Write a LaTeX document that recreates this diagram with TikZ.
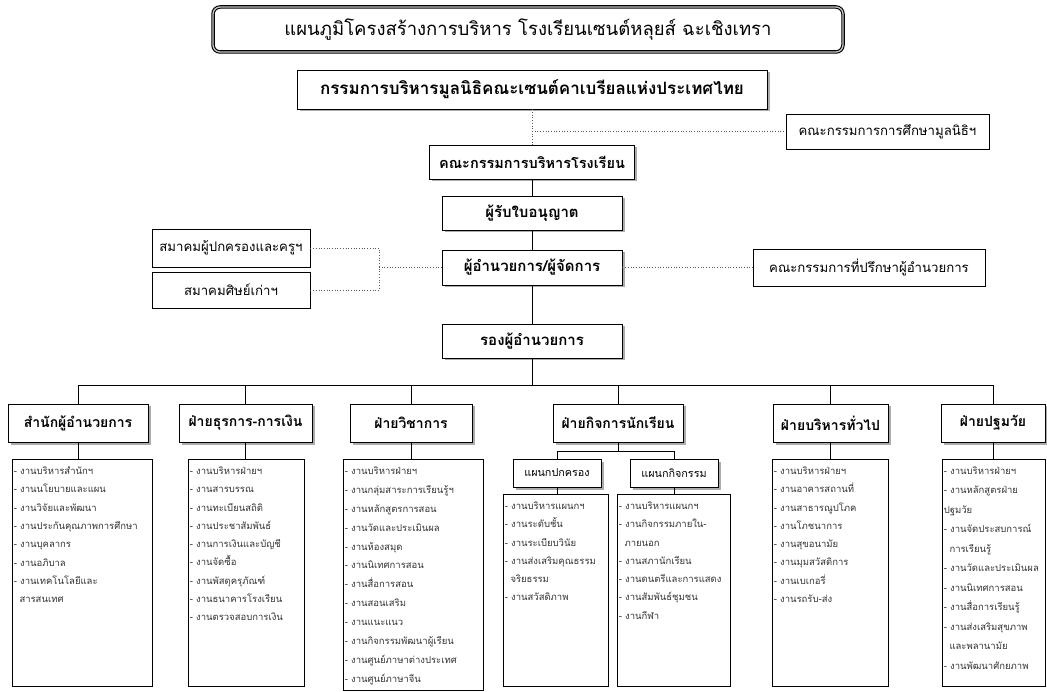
\documentclass[tikz,border=0pt]{standalone}
\usepackage{fontspec}
\setmainfont[Script=Thai]{Loma}
\usetikzlibrary{shadows,positioning}

\tikzset{
  shadowed/.style={drop shadow={shadow xshift=2.5pt, shadow yshift=-2.5pt, fill=gray!65, opacity=1}},
  titlebox/.style={draw, line width=1.1pt, double=gray!45, double distance=1.3pt, rounded corners=7pt,
    fill=white, minimum width=630pt, minimum height=45pt, font=\fontsize{18.5}{22}\selectfont},
  stackbox/.style={draw, fill=white, line width=0.8pt, minimum height=34pt, inner sep=2pt, shadowed,
    font=\fontsize{15}{18}\selectfont\bfseries},
  sidebox/.style={draw, fill=white, line width=0.8pt, inner sep=2pt, font=\fontsize{13.2}{16}\selectfont},
  divbox/.style={draw, fill=white, line width=0.8pt, minimum height=38pt, inner sep=2pt, shadowed,
    font=\fontsize{14}{16}\selectfont\bfseries},
  subbox/.style={draw, fill=white, line width=0.8pt, minimum height=28pt, inner sep=2pt, shadowed,
    font=\fontsize{10.8}{13}\selectfont},
  listbox/.style={draw, line width=0.8pt, inner sep=0pt},
  listtext/.style={align=left, inner sep=0pt, text=black!80, font=\fontsize{9.5}{18.3}\selectfont},
  link/.style={draw, line width=0.7pt},
  dotline/.style={draw, dotted, line width=0.7pt, gray!70!black}
}

\begin{document}
\begin{tikzpicture}[x=1pt, y=-1pt]
  \useasboundingbox (0,0) rectangle (1047,692);

  % Title
  \node[titlebox] (title) at (528,29.5) {แผนภูมิโครงสร้างการบริหาร โรงเรียนเซนต์หลุยส์ ฉะเชิงเทรา};

  % Main column
  \node[stackbox, minimum width=470pt, minimum height=39pt, font=\fontsize{17}{20}\selectfont\bfseries]
    (found) at (532,89.5) {กรรมการบริหารมูลนิธิคณะเซนต์คาเบรียลแห่งประเทศไทย};
  \node[stackbox, minimum width=205pt, font=\fontsize{14.5}{18}\selectfont\bfseries] (board) at (532,162) {คณะกรรมการบริหารโรงเรียน};
  \node[stackbox, minimum width=180pt] (licensee) at (532,213) {ผู้รับใบอนุญาต};
  \node[stackbox, minimum width=180pt, minimum height=35pt] (director) at (532,267.5) {ผู้อำนวยการ/ผู้จัดการ};
  \node[stackbox, minimum width=180pt] (vice) at (532,341) {รองผู้อำนวยการ};

  % Side bodies
  \node[sidebox, minimum width=203pt, minimum height=35pt] (edcom) at (887.5,131.5) {คณะกรรมการการศึกษามูลนิธิฯ};
  \node[sidebox, minimum width=158pt, minimum height=38pt] (parents) at (231,248) {สมาคมผู้ปกครองและครูฯ};
  \node[sidebox, minimum width=158pt, minimum height=36pt] (alumni) at (231,290) {สมาคมศิษย์เก่าฯ};
  \node[sidebox, minimum width=232pt, minimum height=37pt] (advisory) at (869,267.5) {คณะกรรมการที่ปรึกษาผู้อำนวยการ};

  % Dotted links
  \coordinate (assoc) at (379,267.5);
  \draw[dotline] (found) -- (board);
  \draw[dotline] (found.south |- edcom) -- (edcom);
  \draw[dotline] (director) -- (assoc);
  \draw[dotline] (parents.east) -| (assoc);
  \draw[dotline] (alumni.east) -| (assoc);
  \draw[dotline] (director) -- (advisory);

  % Solid links
  \draw[link] (board) -- (licensee);
  \draw[link] (licensee) -- (director);
  \draw[link] (director) -- (vice);

  % Divisions
  \coordinate (bus) at (532,385);
  \foreach \n/\x/\w/\lbl in {d1/78/140/สำนักผู้อำนวยการ, d2/245.5/133/ฝ่ายธุรการ-การเงิน,
      d3/411/122/ฝ่ายวิชาการ, d4/618/130/ฝ่ายกิจการนักเรียน,
      d5/830.5/115/ฝ่ายบริหารทั่วไป, d6/993/104/ฝ่ายปฐมวัย} {
    \node[divbox, minimum width=\w pt] (\n) at (\x,423) {\lbl};
  }
  \draw[link] (vice) -- (bus);
  \draw[link] (d1.north |- bus) -- (d6.north |- bus);
  \foreach \n in {d1,d2,d3,d4,d5,d6} {
    \draw[link] (\n) -- (\n.north |- bus);
  }

  % Student affairs sections
  \coordinate (subbus) at (618,451);
  \node[subbox, minimum width=88pt] (s1) at (557,473) {แผนกปกครอง};
  \node[subbox, minimum width=88pt] (s2) at (674,473) {แผนกกิจกรรม};
  \draw[link] (d4) -- (subbus);
  \draw[link] (s1.north) |- (subbus);
  \draw[link] (s2.north) |- (subbus);

  % Task lists
  \node[listbox, minimum width=140pt, minimum height=227pt] (l1) at (82,572.5) {};
  \node[listbox, minimum width=116pt, minimum height=227pt] (l2) at (246,572.5) {};
  \node[listbox, minimum width=140pt, minimum height=231pt] (l3) at (413,574.5) {};
  \node[listbox, minimum width=105pt, minimum height=192pt] (l4) at (555.5,590) {};
  \node[listbox, minimum width=113pt, minimum height=192pt] (l5) at (673.5,590) {};
  \node[listbox, minimum width=116pt, minimum height=227pt] (l6) at (830,572.5) {};
  \node[listbox, minimum width=103pt, minimum height=227pt] (l7) at (993.5,572.5) {};

  \draw[link] (d1) -- (d1.south |- l1.north);
  \draw[link] (d2) -- (d2.south |- l2.north);
  \draw[link] (d3) -- (d3.south |- l3.north);
  \draw[link] (s1) -- (s1.south |- l4.north);
  \draw[link] (s2) -- (s2.south |- l5.north);
  \draw[link] (d5) -- (d5.south |- l6.north);
  \draw[link] (d6) -- (d6.south |- l7.north);

  \node[listtext, below right=8pt and 2pt of l1.north west] (t1) {- งานบริหารสำนักฯ\\- งานนโยบายและแผน\\- งานวิจัยและพัฒนา\\- งานประกันคุณภาพการศึกษา\\- งานบุคลากร\\- งานอภิบาล\\- งานเทคโนโลยีและ\\\hspace*{0.6em}สารสนเทศ};
  \node[listtext, below right=8pt and 2pt of l2.north west] (t2) {- งานบริหารฝ่ายฯ\\- งานสารบรรณ\\- งานทะเบียนสถิติ\\- งานประชาสัมพันธ์\\- งานการเงินและบัญชี\\- งานจัดซื้อ\\- งานพัสดุครุภัณฑ์\\- งานธนาคารโรงเรียน\\- งานตรวจสอบการเงิน};
  \node[listtext, below right=8pt and 2pt of l3.north west, font=\fontsize{9.5}{18.9}\selectfont] (t3) {- งานบริหารฝ่ายฯ\\- งานกลุ่มสาระการเรียนรู้ฯ\\- งานหลักสูตรการสอน\\- งานวัดและประเมินผล\\- งานห้องสมุด\\- งานนิเทศการสอน\\- งานสื่อการสอน\\- งานสอนเสริม\\- งานแนะแนว\\- งานกิจกรรมพัฒนาผู้เรียน\\- งานศูนย์ภาษาต่างประเทศ\\- งานศูนย์ภาษาจีน};
  \node[listtext, below right=8pt and 2pt of l4.north west] (t4) {- งานบริหารแผนกฯ\\- งานระดับชั้น\\- งานระเบียบวินัย\\- งานส่งเสริมคุณธรรม\\\hspace*{0.6em}จริยธรรม\\- งานสวัสดิภาพ};
  \node[listtext, below right=8pt and 2pt of l5.north west] (t5) {- งานบริหารแผนกฯ\\- งานกิจกรรมภายใน-\\\hspace*{0.6em}ภายนอก\\- งานสภานักเรียน\\- งานดนตรีและการแสดง\\- งานสัมพันธ์ชุมชน\\- งานกีฬา};
  \node[listtext, below right=8pt and 2pt of l6.north west] (t6) {- งานบริหารฝ่ายฯ\\- งานอาคารสถานที่\\- งานสาธารณูปโภค\\- งานโภชนาการ\\- งานสุขอนามัย\\- งานมุมสวัสดิการ\\- งานเบเกอรี่\\- งานรถรับ-ส่ง};
  \node[listtext, below right=8pt and 2pt of l7.north west, font=\fontsize{9.5}{19.5}\selectfont] (t7) {- งานบริหารฝ่ายฯ\\- งานหลักสูตรฝ่าย\\ปฐมวัย\\- งานจัดประสบการณ์\\\hspace*{0.6em}การเรียนรู้\\- งานวัดและประเมินผล\\- งานนิเทศการสอน\\- งานสื่อการเรียนรู้\\- งานส่งเสริมสุขภาพ\\\hspace*{0.6em}และพลานามัย\\- งานพัฒนาศักยภาพ};

\end{tikzpicture}
\end{document}
